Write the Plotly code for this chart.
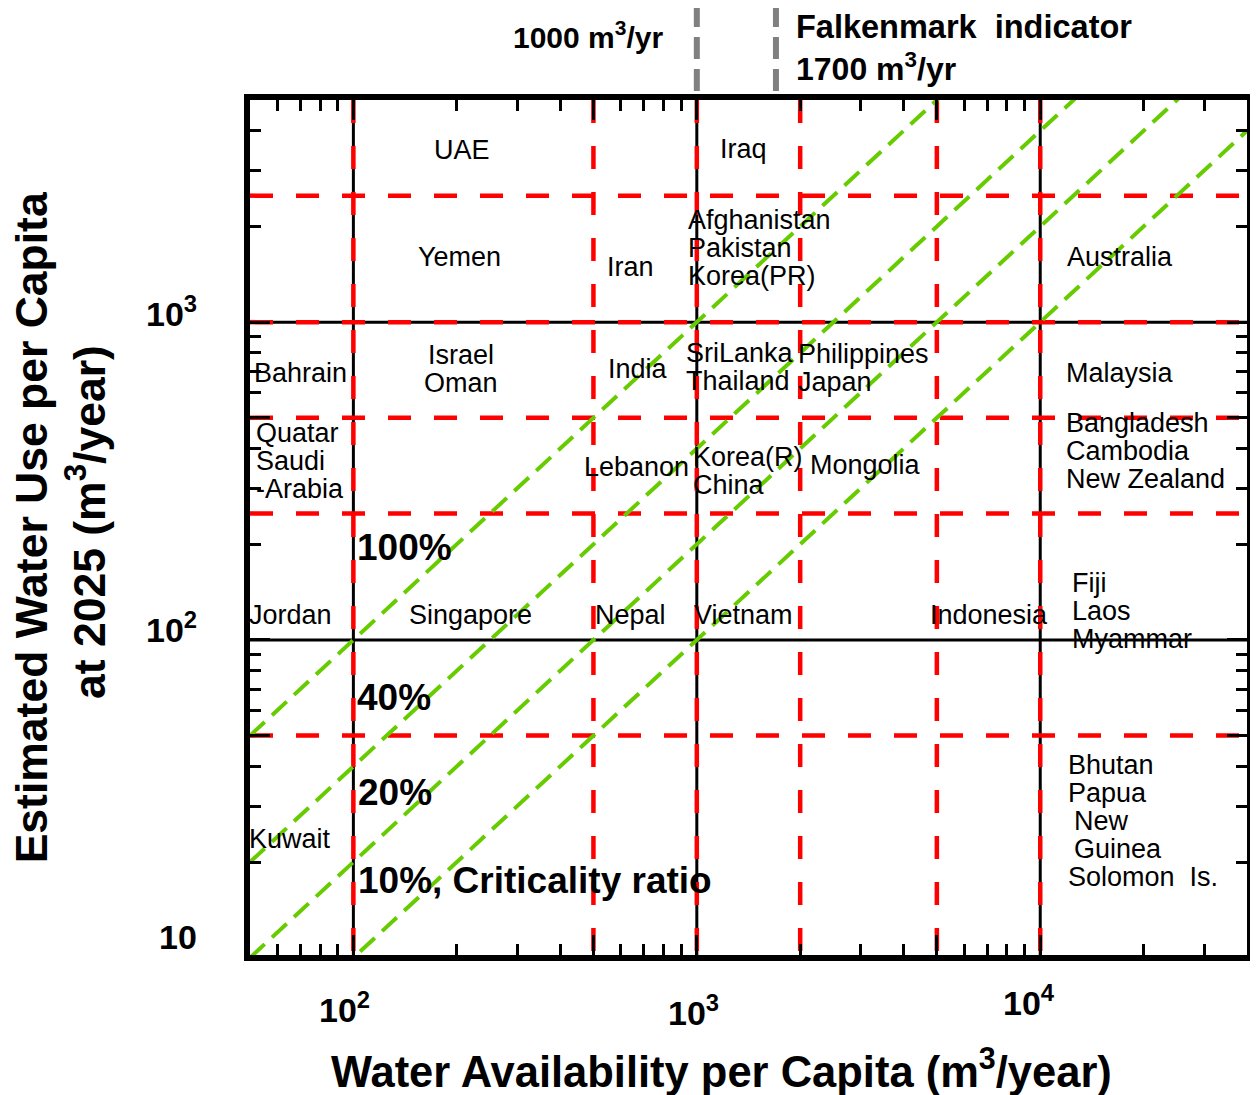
import math
import plotly.graph_objects as go

# ---------------- data ----------------
x_range = [50, 40000]
y_range = [10.2, 5000]

black_x = [100, 1000, 10000]          # solid vertical lines
black_y = [100, 1000]                 # solid horizontal lines
red_x = [100, 500, 1000, 2000, 5000, 10000]   # dashed red verticals
red_y = [50, 250, 500, 1000, 2500]            # dashed red horizontals

ratios = [1.0, 0.4, 0.2, 0.1]
ratio_labels = ["100%", "40%", "20%", "10%, Criticality ratio"]

thresholds = [1000, 1700]
threshold_labels = ["1000 m<sup>3</sup>/yr", "Falkenmark&nbsp; indicator", "1700 m<sup>3</sup>/yr"]

x_tick_vals = [100, 1000, 10000]
x_tick_text = ["10<sup>2</sup>", "10<sup>3</sup>", "10<sup>4</sup>"]
y_tick_vals = [10, 100, 1000]
y_tick_text = ["10", "10<sup>2</sup>", "10<sup>3</sup>"]

country_names = [
    ["UAE"], ["Yemen"], ["Iran"], ["Iraq"],
    ["Afghanistan", "Pakistan", "Korea(PR)"], ["Australia"],
    ["Bahrain"], ["Israel", "Oman"], ["India"], ["SriLanka", "Thailand"],
    ["Philippines", "Japan"], ["Malaysia"],
    ["Quatar", "Saudi", "-Arabia"], ["Lebanon"], ["Korea(R)", "China"],
    ["Mongolia"], ["Bangladesh", "Cambodia", "New Zealand"],
    ["Jordan"], ["Singapore"], ["Nepal"], ["Vietnam"], ["Indonesia"],
    ["Fiji", "Laos", "Myammar"],
    ["Kuwait"], ["Bhutan", "Papua", " New", " Guinea", "Solomon&nbsp; Is."],
]

x_title = "Water Availability per Capita (m<sup>3</sup>/year)"
y_title_lines = ["Estimated Water Use per Capita", "at 2025 (m<sup>3</sup>/year)"]

# ---------------- layout helpers ----------------
# anchor (x, y in data units, horizontal alignment) for each country group
label_anchors = [
    (206.9, 3475, "center"), (204, 1601, "center"), (642, 1489, "center"), (1363, 3499, "center"),
    (932, 2094, "left"), (17040, 1601, "center"),
    (50.7, 691, "left"), (205.4, 787, "center"), (673, 711, "center"), (920, 799, "left"),
    (1941, 793, "left"), (17040, 691, "center"),
    (51.4, 448, "left"), (668, 350, "center"), (964, 376, "left"),
    (3095, 355, "center"), (11733, 481, "left"),
    (65.7, 119.8, "center"), (219.5, 119.8, "center"), (642, 119.8, "center"),
    (1363, 119.8, "center"), (7071, 119.8, "center"),
    (12211, 151, "left"),
    (65.3, 23.7, "center"), (11892, 40.5, "left"),
]
ratio_anchor_x = [101.0, 101.0, 102.0, 102.0]
ratio_anchor_y = [196, 65.7, 33.0, 17.5]

FONT = "Liberation Sans, Arial, sans-serif"
GREEN = "#66CC00"
RED = "#FF0000"
L = math.log10


def py(p):
    """reference pixel row -> paper y (plot area spans rows 100..955)"""
    return (955 - p) / 855


def px(p):
    """reference pixel column -> paper x (plot area spans cols 250..1253)"""
    return (p - 250) / 1003


fig = go.Figure()

# diagonal criticality-ratio lines
for r in ratios:
    xs = [x_range[0], x_range[1]]
    fig.add_trace(go.Scatter(
        x=xs, y=[r * v for v in xs], mode="lines",
        line=dict(color=GREEN, width=4, dash="20px,10px"),
        hoverinfo="skip", showlegend=False))

shapes = []
for xv in black_x:
    shapes.append(dict(type="line", xref="x", yref="paper", x0=xv, x1=xv, y0=0, y1=1,
                       line=dict(color="black", width=3), layer="below"))
for yv in black_y:
    shapes.append(dict(type="line", xref="paper", yref="y", x0=0, x1=1, y0=yv, y1=yv,
                       line=dict(color="black", width=3), layer="below"))
for xv in red_x:
    shapes.append(dict(type="line", xref="x", yref="paper", xsizemode="pixel", xanchor=xv,
                       x0=-5, x1=-5, y0=1, y1=0,
                       line=dict(color=RED, width=4.5, dash="23px,23px"), layer="below"))
for yv in red_y:
    shapes.append(dict(type="line", xref="paper", yref="y", x0=0, x1=1, y0=yv, y1=yv,
                       line=dict(color=RED, width=4.5, dash="23px,23px"), layer="below"))
# threshold markers above the plot
for tv in thresholds:
    shapes.append(dict(type="line", xref="x", yref="paper", x0=tv, x1=tv, y0=py(5), y1=py(93),
                       line=dict(color="#808080", width=6, dash="22px,10px")))

ann = []
for lines, (ax, ay, al) in zip(country_names, label_anchors):
    for i, t in enumerate(lines):
        shift = 0
        if t.startswith(" "):
            shift = 6
            t = t.strip()
        ann.append(dict(x=L(ax), y=L(ay), xref="x", yref="y", text=t, showarrow=False,
                        xanchor=al, yanchor="middle", yshift=-28 * i, xshift=shift,
                        font=dict(family=FONT, size=27, color="black")))

for t, ax, ay in zip(ratio_labels, ratio_anchor_x, ratio_anchor_y):
    ann.append(dict(x=L(ax), y=L(ay), xref="x", yref="y", text=t, showarrow=False,
                    xanchor="left", yanchor="middle",
                    font=dict(family=FONT, size=37, color="black", weight="bold")))

# tick labels
x_label_pos = [(-9, 1008), (-3, 1010), (-11, 1000)]
for v, t, (dx, prow) in zip(x_tick_vals, x_tick_text, x_label_pos):
    ann.append(dict(x=L(v), y=py(prow), xref="x", yref="paper", text=t, showarrow=False,
                    xanchor="center", yanchor="middle", xshift=dx,
                    font=dict(family=FONT, size=34, color="black", weight="bold")))
y_label_rows = [937, 628, 311]
for t, prow in zip(y_tick_text, y_label_rows):
    ann.append(dict(x=px(199), y=py(prow), xref="paper", yref="paper", text=t, showarrow=False,
                    xanchor="right", yanchor="middle",
                    font=dict(family=FONT, size=34, color="black", weight="bold")))

# threshold labels
ann.append(dict(x=L(thresholds[0]), y=py(35), xref="x", yref="paper", text=threshold_labels[0],
                showarrow=False, xanchor="right", yanchor="middle", xshift=-32,
                font=dict(family=FONT, size=30, color="black", weight="bold")))
ann.append(dict(x=L(thresholds[1]), y=py(27), xref="x", yref="paper", text=threshold_labels[1],
                showarrow=False, xanchor="left", yanchor="middle", xshift=18,
                font=dict(family=FONT, size=32.5, color="black", weight="bold")))
ann.append(dict(x=L(thresholds[1]), y=py(67), xref="x", yref="paper", text=threshold_labels[2],
                showarrow=False, xanchor="left", yanchor="middle", xshift=18,
                font=dict(family=FONT, size=32, color="black", weight="bold")))

# axis titles
ann.append(dict(x=px(724), y=py(1068), xref="paper", yref="paper",
                text=x_title, showarrow=False, xanchor="center", yanchor="middle",
                font=dict(family=FONT, size=43.5, color="black", weight="bold")))
for t, (col, row) in zip(y_title_lines, [(30, 527), (85, 522)]):
    ann.append(dict(x=px(col), y=py(row), xref="paper", yref="paper",
                    text=t, showarrow=False, xanchor="center", yanchor="middle", textangle=-90,
                    font=dict(family=FONT, size=44.5, color="black", weight="bold")))


def minor_vals(lo, hi, majors):
    vals = []
    d = 1
    while d <= hi:
        for m in range(1, 10):
            v = m * d
            if lo < v < hi and v not in majors:
                vals.append(v)
        d *= 10
    return vals


x_major = [100, 500, 1000, 5000, 10000]
y_major = [50, 100, 500, 1000]

axis_common = dict(type="log", showgrid=False, zeroline=False, showticklabels=False,
                   showline=True, linecolor="black", linewidth=6, mirror="allticks",
                   ticks="inside", ticklen=20, tickwidth=3, tickcolor="black")

# the page body has an 8px margin, so the figure is 8px smaller and shifted
fig.update_layout(
    width=1250, height=1087,
    margin=dict(l=242, r=5, t=92, b=140),
    paper_bgcolor="white", plot_bgcolor="white",
    showlegend=False,
    xaxis=dict(range=[L(x_range[0]), L(x_range[1])], tickmode="array", tickvals=x_major,
               minor=dict(tickmode="array", tickvals=minor_vals(50, 40000, x_major), ticks="inside",
                          ticklen=11, tickwidth=3, tickcolor="black", showgrid=False),
               **axis_common),
    yaxis=dict(range=[L(y_range[0]), L(y_range[1])], tickmode="array", tickvals=y_major,
               minor=dict(tickmode="array", tickvals=minor_vals(10.2, 5000, y_major), ticks="inside",
                          ticklen=11, tickwidth=3, tickcolor="black", showgrid=False),
               **axis_common),
    shapes=shapes,
    annotations=ann,
)

fig.write_html("out.html")
